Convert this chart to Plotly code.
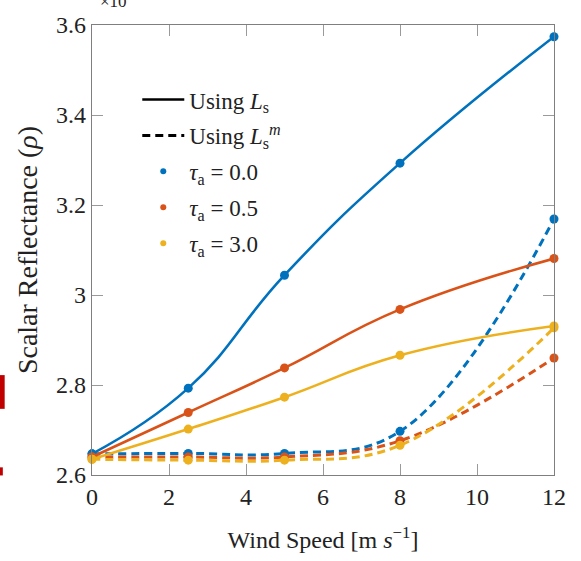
import plotly.graph_objects as go

# Wind speeds at which the reflectance was evaluated
wind_speed = [0, 2.5, 5, 8, 12]

# Scalar reflectance (x10^-3) for each aerosol optical thickness
rho_ls_tau00 = [2.647, 2.793, 3.044, 3.293, 3.574]
rho_lsm_tau00 = [2.647, 2.648, 2.648, 2.697, 3.169]
rho_ls_tau05 = [2.640, 2.739, 2.838, 2.968, 3.081]
rho_lsm_tau05 = [2.640, 2.640, 2.640, 2.676, 2.860]
rho_ls_tau30 = [2.635, 2.702, 2.773, 2.866, 2.931]
rho_lsm_tau30 = [2.635, 2.633, 2.633, 2.666, 2.927]

tau_labels = ["0.0", "0.5", "3.0"]
colors = ["#0072BD", "#D95319", "#EDB120"]

series = [
    (rho_ls_tau00, rho_lsm_tau00),
    (rho_ls_tau05, rho_lsm_tau05),
    (rho_ls_tau30, rho_lsm_tau30),
]

FONT = "Liberation Serif, Times New Roman, serif"

fig = go.Figure()

for (solid, dashed), color in zip(series, colors):
    fig.add_trace(go.Scatter(
        x=wind_speed, y=dashed, mode="lines+markers",
        line=dict(color=color, width=3, dash="8px,5px", shape="spline", smoothing=1.15),
        marker=dict(color=color, size=9), cliponaxis=False,
        showlegend=False, hoverinfo="skip",
    ))
    fig.add_trace(go.Scatter(
        x=wind_speed, y=solid, mode="lines+markers",
        line=dict(color=color, width=2.6, shape="spline", smoothing=1.3),
        marker=dict(color=color, size=9), cliponaxis=False,
        showlegend=False, hoverinfo="skip",
    ))

# Legend entries
fig.add_trace(go.Scatter(
    x=[None], y=[None], mode="lines", line=dict(color="black", width=2.5),
    name="Using <i>L</i><sub>s</sub>", legendgroup="a",
))
fig.add_trace(go.Scatter(
    x=[None], y=[None], mode="lines", line=dict(color="black", width=3, dash="8px,5px"),
    name="Using <i>L</i><sub>s</sub><sup><i>m</i></sup>", legendgroup="b",
))
for lab, color, grp in zip(tau_labels, colors, ["c", "d", "e"]):
    fig.add_trace(go.Scatter(
        x=[None], y=[None], mode="markers", marker=dict(color=color, size=6),
        name=f"<i>τ</i><sub>a</sub> = {lab}", legendgroup=grp,
    ))

axis_common = dict(
    showline=True, linecolor="#7f7f7f", linewidth=1.3, mirror="ticks",
    ticks="inside", ticklen=11, tickcolor="#9a9a9a", tickwidth=1,
    showgrid=False, zeroline=False,
    tickfont=dict(family=FONT, size=24, color="#222"),
)

fig.update_layout(
    width=581, height=561,
    margin=dict(l=92, r=27, t=16, b=83),
    paper_bgcolor="white", plot_bgcolor="white",
    font=dict(family=FONT, color="#222"),
    xaxis=dict(
        range=[0, 12], tickvals=[0, 2, 4, 6, 8, 10, 12],
        title=dict(text="Wind Speed [m <i>s</i><sup>−1</sup>]", font=dict(family=FONT, size=24), standoff=22),
        **axis_common,
    ),
    yaxis=dict(
        range=[2.6, 3.6], tickvals=[2.6, 2.8, 3.0, 3.2, 3.4, 3.6],
        title=dict(text="Scalar Reflectance (<i>ρ</i>)", font=dict(family=FONT, size=28), standoff=10),
        **axis_common,
    ),
    legend=dict(
        x=0.098, y=0.882, xanchor="left", yanchor="top",
        bgcolor="rgba(0,0,0,0)", font=dict(family=FONT, size=23, color="#222"),
        tracegroupgap=3, itemwidth=42,
    ),
    annotations=[dict(
        text="×10<sup>−3</sup>", xref="paper", yref="paper", x=0.0, y=1.0,
        xanchor="left", yanchor="bottom", xshift=6, yshift=12, showarrow=False,
        font=dict(family=FONT, size=17, color="#222"),
    )],
    shapes=[
        dict(type="rect", xref="paper", yref="paper", x0=-0.2, x1=-0.189,
             y0=0.147, y1=0.222, fillcolor="#c00000", line_width=0),
        dict(type="rect", xref="paper", yref="paper", x0=-0.2, x1=-0.193,
             y0=-0.001, y1=0.017, fillcolor="#c00000", line_width=0),
    ],
)

fig.write_html("out.html")
